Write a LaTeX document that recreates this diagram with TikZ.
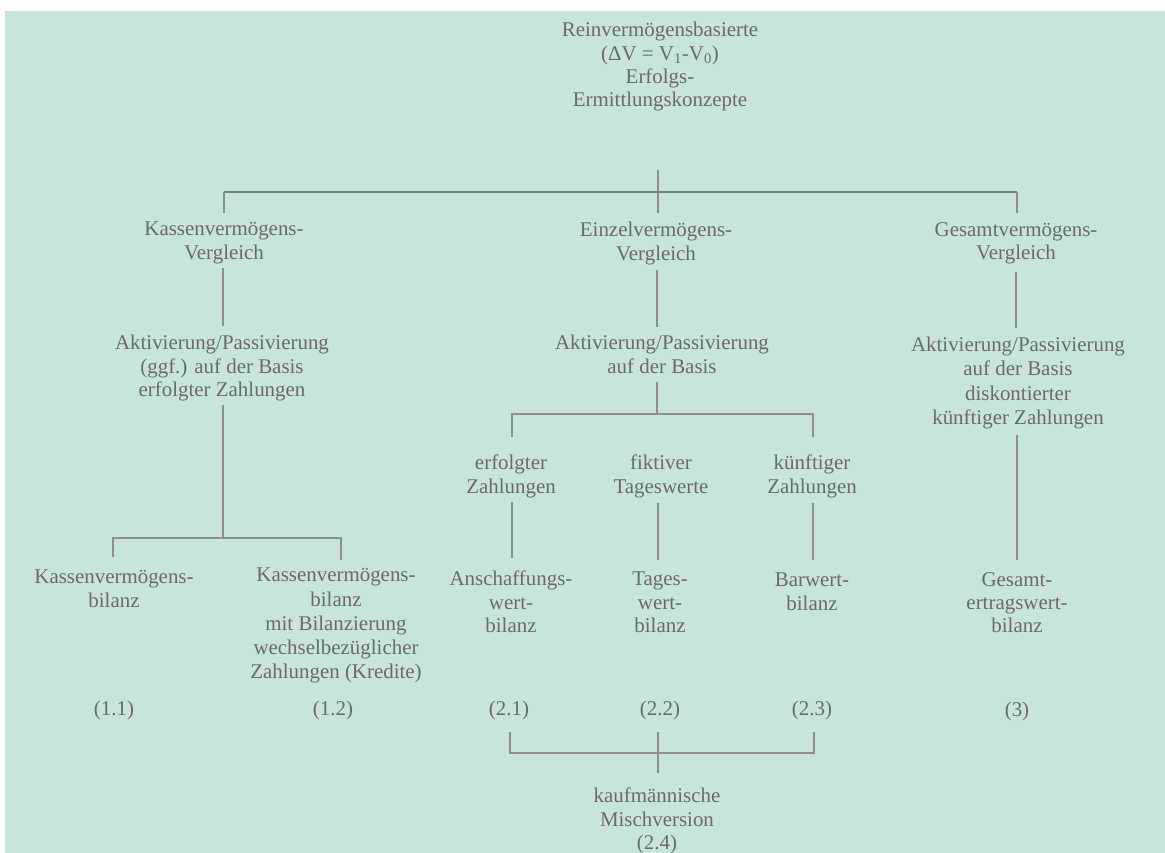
\documentclass[tikz,border=0pt]{standalone}
\usepackage{fontspec}
\setmainfont{Liberation Serif}
\definecolor{bg}{HTML}{C9E4DB}
\definecolor{ink}{HTML}{6A6A6A}
\definecolor{rule}{HTML}{8C8F8D}
\begin{document}
\begin{tikzpicture}[x=1bp,y=-1bp,
  lbl/.style={align=center,anchor=north,inner sep=0pt,text=ink,font=\fontsize{21}{23.5}\selectfont},
  conn/.style={draw=rule,line width=1.5bp},
  mainrule/.style={draw=rule!90!black,line width=2bp}]
\fill[white] (0,0) rectangle (1165,853);
\useasboundingbox (0,0) rectangle (1165,853);
\fill[bg] (5,11) rectangle (1165,853);

% nodes
\node[lbl] (top) at (660,22) {Reinvermögensbasierte\\(ΔV = V\textsubscript{1}-V\textsubscript{0})\\Erfolgs-\\Ermittlungskonzepte};
\node[lbl] (kv) at (224,222) {Kassenvermögens-\\Vergleich};
\node[lbl] (ev) at (656,222) {Einzelvermögens-\\Vergleich};
\node[lbl] (gv) at (1016,222) {Gesamtvermögens-\\Vergleich};
\node[lbl] (a1) at (222,335) {Aktivierung/Passivierung\\(ggf.) auf der Basis\\erfolgter Zahlungen};
\node[lbl] (a2) at (662,335) {Aktivierung/Passivierung\\auf der Basis};
\node[lbl,font=\fontsize{21}{24.3}\selectfont] (a3) at (1018,337) {Aktivierung/Passivierung\\auf der Basis\\diskontierter\\künftiger Zahlungen};
\node[lbl] (z1) at (511,455) {erfolgter\\Zahlungen};
\node[lbl] (z2) at (661,455) {fiktiver\\Tageswerte};
\node[lbl] (z3) at (812,455) {künftiger\\Zahlungen};
\node[lbl] (b11) at (114,570) {Kassenvermögens-\\bilanz};
\node[lbl,font=\fontsize{21}{24.3}\selectfont] (b12) at (336,568) {Kassenvermögens-\\bilanz\\mit Bilanzierung\\wechselbezüglicher\\Zahlungen (Kredite)};
\node[lbl] (b21) at (511,571) {Anschaffungs-\\wert-\\bilanz};
\node[lbl] (b22) at (660,572) {Tages-\\wert-\\bilanz};
\node[lbl] (b23) at (812,573) {Barwert-\\bilanz};
\node[lbl] (b3) at (1017,572) {Gesamt-\\ertragswert-\\bilanz};
\node[lbl] (n11) at (114,701) {(1.1)};
\node[lbl] (n12) at (333,701) {(1.2)};
\node[lbl] (n21) at (509,701) {(2.1)};
\node[lbl] (n22) at (660,701) {(2.2)};
\node[lbl] (n23) at (812,701) {(2.3)};
\node[lbl] (n3) at (1017,702) {(3)};
\node[lbl] (km) at (657,788) {kaufmännische\\Mischversion\\(2.4)};

% junction coordinates
\coordinate (t0) at (658,170);
\coordinate (t1) at (658,192);
\coordinate (tl) at (224,192);
\coordinate (tr) at (1017,192);
\coordinate (tlk) at (224,213);
\coordinate (tmk) at (658,213);
\coordinate (trk) at (1017,213);

\coordinate (kv1) at (223,268); \coordinate (kv2) at (223,326);
\coordinate (ev1) at (657,270); \coordinate (ev2) at (657,327);
\coordinate (gv1) at (1016,272); \coordinate (gv2) at (1016,328);

\coordinate (a1d) at (223,405); \coordinate (a1j) at (223,538);
\coordinate (l1) at (113,538); \coordinate (l2) at (341,538);
\coordinate (l1k) at (113,557); \coordinate (l2k) at (341,560);

\coordinate (a2d) at (657,382); \coordinate (a2j) at (657,414);
\coordinate (m1) at (512,414); \coordinate (m3) at (813,414);
\coordinate (m1k) at (512,437); \coordinate (m3k) at (813,437);

\coordinate (z1a) at (512,502); \coordinate (z1b) at (512,558);
\coordinate (z2a) at (658,503); \coordinate (z2b) at (658,560);
\coordinate (z3a) at (813,503); \coordinate (z3b) at (813,560);
\coordinate (a3a) at (1017,435); \coordinate (a3b) at (1017,560);

\coordinate (q1) at (510,732); \coordinate (q1b) at (510,753);
\coordinate (q3) at (814,732); \coordinate (q3b) at (814,753);
\coordinate (q2) at (658,732); \coordinate (q2b) at (658,773);

% connectors
\draw[conn] (t0) -- (tmk);
\draw[mainrule] (tl) -- (tr);
\draw[conn] (tl) -- (tlk);
\draw[conn] (tr) -- (trk);
\draw[conn] (kv1) -- (kv2);
\draw[conn] (ev1) -- (ev2);
\draw[conn] (gv1) -- (gv2);
\draw[conn] (a1d) -- (a1j);
\draw[conn] (l1k) -- (l1) -- (l2) -- (l2k);
\draw[conn] (a2d) -- (a2j);
\draw[conn] (m1k) -- (m1) -- (m3) -- (m3k);
\draw[conn] (z1a) -- (z1b);
\draw[conn] (z2a) -- (z2b);
\draw[conn] (z3a) -- (z3b);
\draw[conn] (a3a) -- (a3b);
\draw[conn] (q1) -- (q1b) -- (q3b) -- (q3);
\draw[conn] (q2) -- (q2b);
\end{tikzpicture}
\end{document}
